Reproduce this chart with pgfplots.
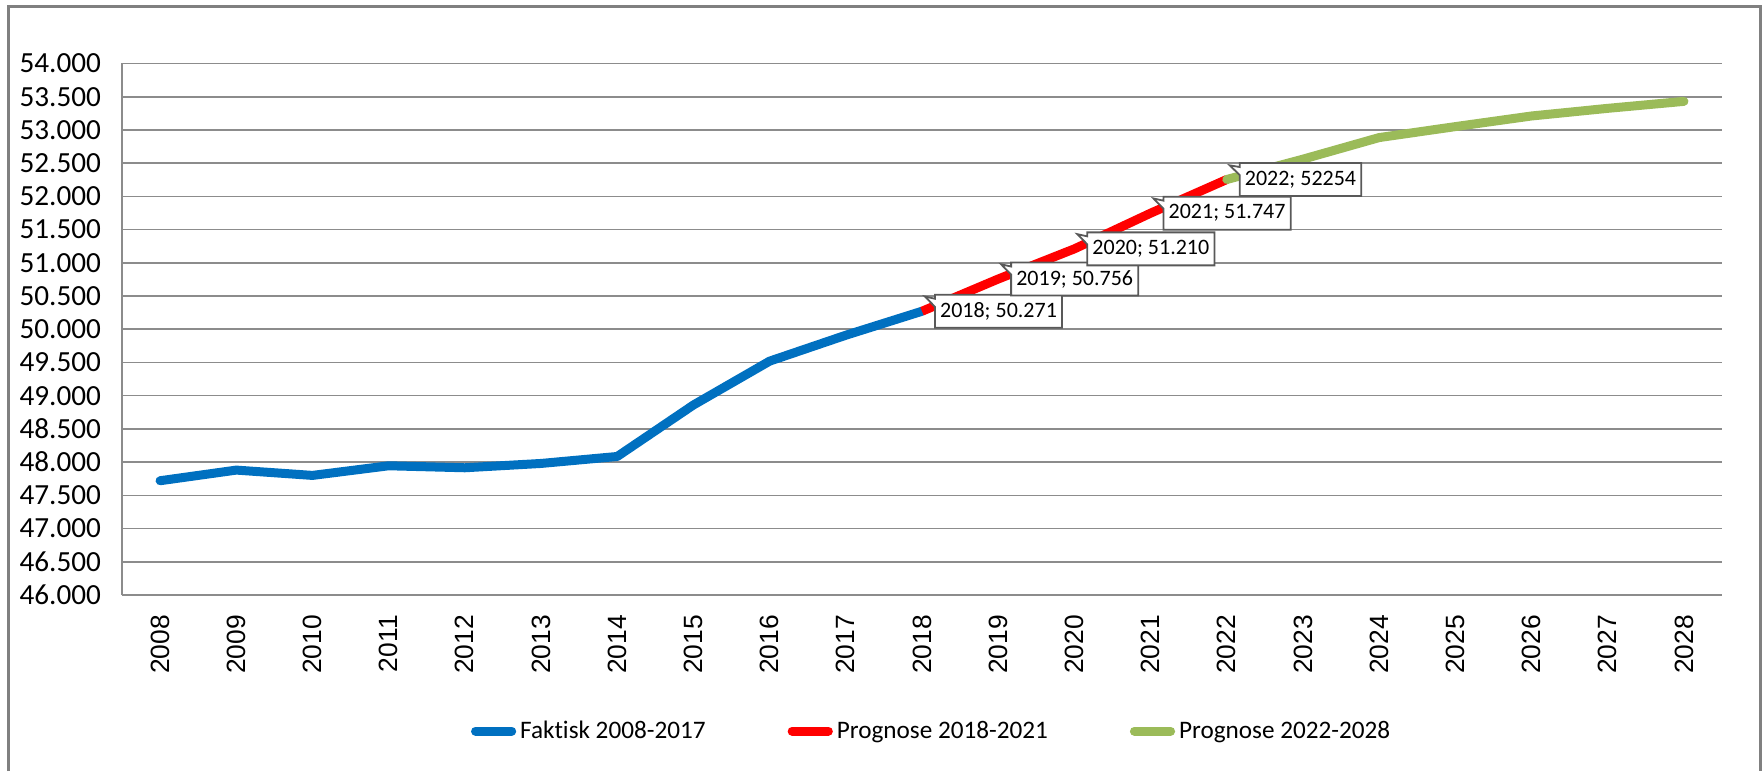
\documentclass[border=0pt]{standalone}
\usepackage{pgfplots}
\pgfplotsset{compat=1.18}
\usepackage{fontspec}
\setmainfont{Carlito}[Ligatures={NoCommon}]
\newfontfamily\arialfont{Liberation Sans}
\usetikzlibrary{shapes.callouts}
\definecolor{cblue}{RGB}{0,112,192}
\definecolor{cred}{RGB}{255,0,0}
\definecolor{cgreen}{RGB}{155,187,89}
\definecolor{cgrid}{RGB}{140,140,140}
\definecolor{cframe}{RGB}{128,128,128}
\definecolor{cbox}{RGB}{89,89,89}
\begin{document}
\begin{tikzpicture}
\useasboundingbox (0,0) rectangle (882pt,385.5pt);
\draw[cframe, line width=1.5pt] (4pt,0pt) -- (4pt,382pt) -- (880pt,382pt) -- (880pt,0pt);
\begin{axis}[
  at={(61pt,88pt)}, anchor=south west,
  scale only axis, width=800pt, height=265.75pt,
  xmin=-0.5, xmax=20.5, ymin=46000, ymax=54000,
  xtick={0,...,20},
  xticklabels={2008,2009,2010,2011,2012,2013,2014,2015,2016,2017,2018,2019,2020,2021,2022,2023,2024,2025,2026,2027,2028},
  ytick={46000,46500,...,54000},
  scaled y ticks=false,
  axis x line*=bottom, axis y line*=left,
  axis line style={cgrid, line width=0.8pt, -},
  major tick length=0pt,
  ymajorgrids, grid style={cgrid, line width=0.8pt},
  yticklabel={\pgfmathprintnumber[fixed, precision=0, 1000 sep={.}, min exponent for 1000 sep=4, assume math mode=true]{\tick}},
  yticklabel style={font=\fontsize{14.6}{17}\selectfont, xshift=-7pt},
  xticklabel style={font=\arialfont\fontsize{13.2}{15}\selectfont, rotate=90, anchor=east},
  xticklabel shift=6.6pt,
  legend columns=3,
  legend style={draw=none, fill=none, at={(0.506,-0.256)}, anchor=center,
    font=\fontsize{12.6}{15}\selectfont,
    /tikz/every odd column/.append style={column sep=1pt},
    /tikz/every even column/.append style={column sep=40pt},
    nodes={inner xsep=1pt}},
  legend image code/.code={\draw[#1, line width=4.5pt, line cap=round] (2.2pt,0pt) -- (20.3pt,0pt);},
  clip=false,
]
\addplot[cblue, line width=4.5pt, line join=round, line cap=round] coordinates {
(0,47720) (1,47880) (2,47800) (3,47945) (4,47915) (5,47980) (6,48085) (7,48860) (8,49520) (9,49910) (10,50271)};
\addlegendentry{Faktisk 2008-2017}
\addplot[cred, line width=4.5pt, line join=round] coordinates {
(10,50271) (11,50756) (12,51210) (13,51747) (14,52254)};
\addlegendentry{Prognose 2018-2021}
\addplot[cgreen, line width=4.5pt, line join=round, line cap=round] coordinates {
(14,52254) (15,52560) (16,52885) (17,53050) (18,53210) (19,53325) (20,53430)};
\addlegendentry{Prognose 2022-2028}
\tikzset{dl/.style={rectangle callout, draw=cbox, fill=white, line width=0.9pt,
  font=\fontsize{11}{13}\selectfont, inner xsep=2.6pt, minimum height=16.5pt,
  anchor=west, xshift=6pt, callout relative pointer={(-5pt,1pt)}, callout pointer width=4pt}}
\node[dl] at (axis cs:10,50271) {2018; 50.271};
\node[dl] at (axis cs:11,50756) {2019; 50.756};
\node[dl] at (axis cs:12,51210) {2020; 51.210};
\node[dl] at (axis cs:13,51747) {2021; 51.747};
\node[dl] at (axis cs:14,52254) {2022; 52254};
\end{axis}
\end{tikzpicture}
\end{document}
